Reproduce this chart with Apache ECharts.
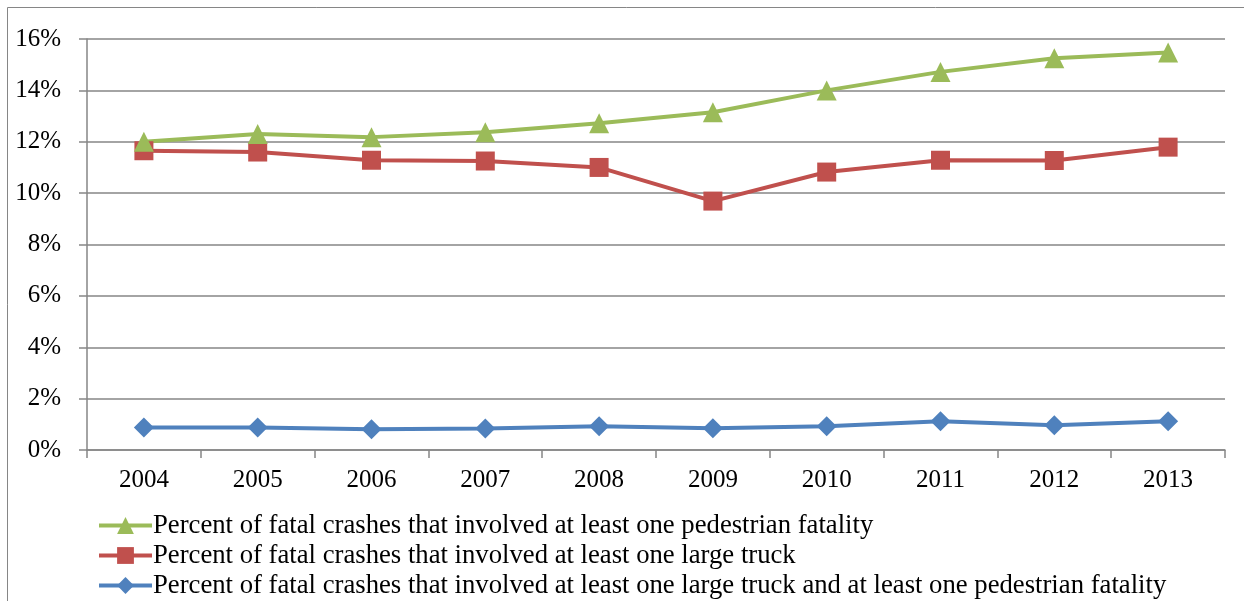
<!DOCTYPE html>
<html><head><meta charset="utf-8">
<script src="https://cdn.jsdelivr.net/npm/echarts@6/dist/echarts.min.js"></script>
<style>html,body{margin:0;padding:0;background:#fff;}#c{width:1244px;height:601px;}</style>
</head><body><div id="c"></div>
<script>
const years = ['2004','2005','2006','2007','2008','2009','2010','2011','2012','2013'];
const pedestrian = [12.0, 12.3, 12.18, 12.37, 12.72, 13.15, 14.0, 14.72, 15.25, 15.47];
const truck = [11.65, 11.6, 11.28, 11.25, 11.0, 9.69, 10.82, 11.28, 11.27, 11.79];
const truckPed = [0.88, 0.88, 0.81, 0.84, 0.92, 0.85, 0.92, 1.12, 0.96, 1.12];
const names = [
  'Percent of fatal crashes that involved at least one pedestrian fatality',
  'Percent of fatal crashes that involved at least one large truck',
  'Percent of fatal crashes that involved at least one large truck and at least one pedestrian fatality'
];
const font = 'Liberation Serif';
const chart = echarts.init(document.getElementById('c'));
chart.setOption({
  animation: false,
  graphic: [{type:'rect', shape:{x:7.5,y:7.5,width:1300,height:700}, style:{fill:'none', stroke:'#868686', lineWidth:1}}],
  grid: {left: 87, right: 19, top: 39, bottom: 151},
  legend: {
    orient: 'vertical', left: 97, top: 512, padding: 0, height: 120, width: 1140,
    itemGap: 3, itemWidth: 53, itemHeight: 21,
    data: names,
    lineStyle: {width: 4},
    textStyle: {fontFamily: font, fontSize: 26.7, color: '#000', padding: [0,0,0,-4]}
  },
  xAxis: {
    type: 'category', data: years, boundaryGap: true,
    axisLine: {lineStyle: {color: '#868686', width: 1.5}},
    axisTick: {show: true, length: 8, lineStyle: {color: '#868686', width: 1.5}},
    axisLabel: {fontFamily: font, fontSize: 25, color: '#000', margin: 18}
  },
  yAxis: {
    type: 'value', min: 0, max: 16, interval: 2,
    axisLine: {show: true, lineStyle: {color: '#868686', width: 1.5}},
    axisTick: {show: true, length: 8, lineStyle: {color: '#868686', width: 1.5}},
    splitLine: {lineStyle: {color: '#868686', width: 1.5}},
    axisLabel: {fontFamily: font, fontSize: 25, color: '#000', margin: 26, formatter: v => v + '%'}
  },
  series: [
    {name: names[2], type: 'line', data: truckPed, symbol: 'diamond', symbolSize: 20,
     lineStyle: {width: 4, color: '#4F81BD'}, itemStyle: {color: '#4F81BD'}},
    {name: names[1], type: 'line', data: truck, symbol: 'rect', symbolSize: 19,
     lineStyle: {width: 4, color: '#C0504D'}, itemStyle: {color: '#C0504D'}},
    {name: names[0], type: 'line', data: pedestrian, symbol: 'triangle', symbolSize: 20,
     lineStyle: {width: 4, color: '#9BBB59'}, itemStyle: {color: '#9BBB59'}}
  ]
});
</script></body></html>
